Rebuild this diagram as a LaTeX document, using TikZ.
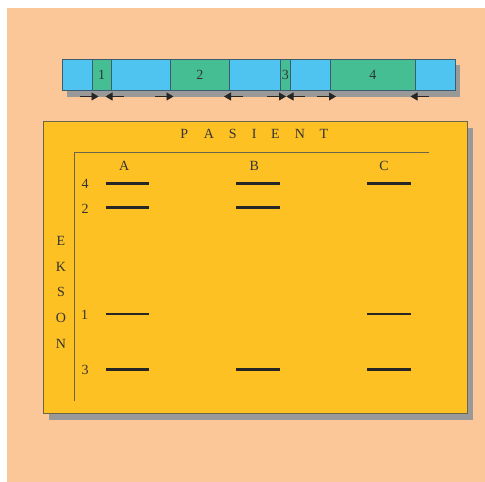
\documentclass[tikz,border=0pt]{standalone}
\usepackage{fontspec}
\setmainfont{Liberation Serif}
\usetikzlibrary{arrows.meta}
\definecolor{peach}{HTML}{FBC799}
\definecolor{genblue}{HTML}{4FC4F0}
\definecolor{exgreen}{HTML}{46BE94}
\definecolor{panelyel}{HTML}{FDC123}
\definecolor{shadowgray}{HTML}{999999}
\definecolor{baredge}{HTML}{3C5C70}
\definecolor{paneledge}{HTML}{6A6647}
\definecolor{txt}{HTML}{333333}
\tikzset{
  seg/.style={draw=baredge, line width=0.9pt, inner sep=0pt, minimum height=31pt, anchor=north west, font=\fontsize{14}{14}\selectfont, text=txt},
  intron/.style={seg, fill=genblue},
  exon/.style={seg, fill=exgreen},
  lbl/.style={font=\fontsize{14}{14}\selectfont, text=txt, inner sep=0pt},
  band/.style={line width=2.7pt, draw=black!85},
  prim/.style={-{Triangle[length=7pt,width=8pt]}, line width=0.9pt, draw=black!85},
  axis/.style={draw=paneledge, line width=0.9pt}
}
\begin{document}
\begin{tikzpicture}[x=1pt,y=-1pt]
\useasboundingbox[fill=white] (0,0) rectangle (485,482);
\fill[peach] (7,8) rectangle (485,482);
% gene shadow
\fill[shadowgray] (67,65) rectangle (460,96.5);
% gene segments
\node[intron, minimum width=29.5pt] (i0) at (62,59) {};
\node[exon, minimum width=19.5pt] (e1) at (91.5,59) {1};
\node[intron, minimum width=59pt] (i1) at (111,59) {};
\node[exon, minimum width=59pt] (e2) at (170,59) {2};
\node[intron, minimum width=51pt] (i2) at (229,59) {};
\node[exon, minimum width=10pt] (e3) at (280,59) {3};
\node[intron, minimum width=40pt] (i3) at (290,59) {};
\node[exon, minimum width=85pt] (e4) at (330,59) {4};
\node[intron, minimum width=39.5pt] (i4) at (415,59) {};
% primer arrows
\coordinate (p1a) at (80,96.5);  \coordinate (p1b) at (98.5,96.5);
\coordinate (p2a) at (124,96.5); \coordinate (p2b) at (105.5,96.5);
\coordinate (p3a) at (155,96.5); \coordinate (p3b) at (173.5,96.5);
\coordinate (p4a) at (243,96.5); \coordinate (p4b) at (224,96.5);
\coordinate (p5a) at (267,96.5); \coordinate (p5b) at (286,96.5);
\coordinate (p6a) at (305,96.5); \coordinate (p6b) at (286.5,96.5);
\coordinate (p7a) at (317,96.5); \coordinate (p7b) at (336,96.5);
\coordinate (p8a) at (429,96.5); \coordinate (p8b) at (410.5,96.5);
\foreach \i in {1,...,8} \draw[prim] (p\i a) -- (p\i b);
% panel
\fill[shadowgray] (49,127.5) rectangle (473,419.5);
\node[draw=paneledge, line width=1pt, fill=panelyel, anchor=north west, inner sep=0pt, minimum width=423.5pt, minimum height=292pt] (panel) at (43.3,121) {};
% title letters
\foreach \l/\x in {P/184.3,A/209,S/232.7,I/254.3,E/275.3,N/300,T/324}
  \node[lbl] (t\l) at (\x,134) {\l};
% axes
\coordinate (corner) at (74,152.7);
\coordinate (xend) at (429.3,152.7);
\coordinate (yend) at (74,401);
\draw[axis] (xend) -- (corner) -- (yend);
% column labels
\node[lbl] (cA) at (124.3,165.5) {A};
\node[lbl] (cB) at (254.3,165.5) {B};
\node[lbl] (cC) at (384,165.5) {C};
% row labels
\node[lbl] (r4) at (85,184) {4};
\node[lbl] (r2) at (85,208.5) {2};
\node[lbl] (r1) at (84.5,314.5) {1};
\node[lbl] (r3) at (85,370) {3};
% EKSON
\foreach \l/\y in {E/240.7,K/266.7,S/292,O/318.3,N/344}
  \node[lbl] (v\l) at (61,\y) {\l};
% bands
\foreach \x/\y in {105.7/183.3,236/183.3,367/183.3,105.7/207.7,236/207.7,105.7/314,367/314,105.7/369.7,236/369.7,367/369.7}
  \draw[band] (\x,\y) -- ++(43.5,0);
\end{tikzpicture}
\end{document}
